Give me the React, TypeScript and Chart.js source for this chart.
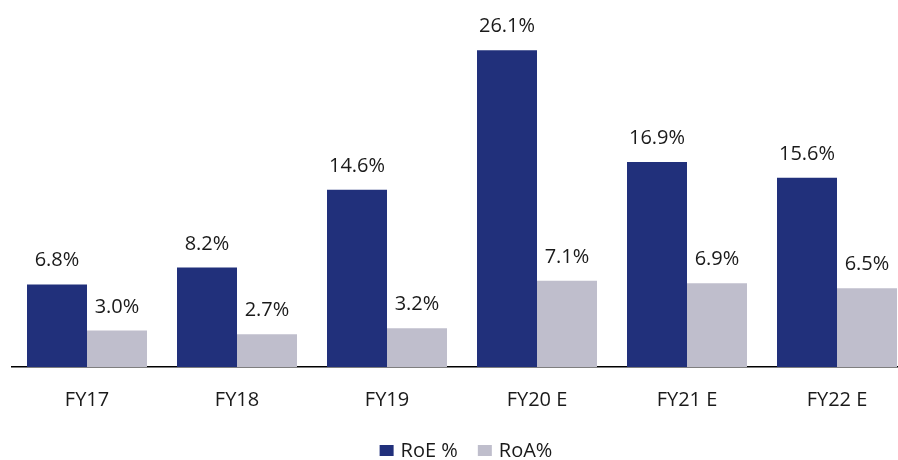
import React, { useEffect, useRef } from "react";
import { Chart, registerables } from "chart.js";

Chart.register(...registerables);

const categories = ["FY17", "FY18", "FY19", "FY20 E", "FY21 E", "FY22 E"];
const roe = [6.8, 8.2, 14.6, 26.1, 16.9, 15.6];
const roa = [3.0, 2.7, 3.2, 7.1, 6.9, 6.5];
const seriesNames = ["RoE %", "RoA%"];

const FONT = "'Open Sans', 'DejaVu Sans', sans-serif";
const TEXT = "#1a1a1a";

// Writes each bar's value just above its top edge.
const valueLabels = {
  id: "valueLabels",
  afterDatasetsDraw(chart: any) {
    const ctx = chart.ctx;
    ctx.save();
    ctx.font = `20px ${FONT}`;
    ctx.fillStyle = TEXT;
    ctx.textAlign = "center";
    ctx.textBaseline = "alphabetic";
    chart.data.datasets.forEach((ds: any, di: number) => {
      const meta = chart.getDatasetMeta(di);
      meta.data.forEach((bar: any, i: number) => {
        const v = ds.data[i] as number;
        ctx.fillText(v.toFixed(1) + "%", bar.x, bar.y - 18);
      });
    });
    ctx.restore();
  },
};

// Single-row legend centred under the chart, built from the datasets.
const bottomLegend = {
  id: "bottomLegend",
  afterDraw(chart: any) {
    const ctx = chart.ctx;
    const boxW = 14;
    const boxH = 11;
    const boxGap = 7;
    const itemGap = 20;
    const cy = 451.5;
    ctx.save();
    ctx.font = `20px ${FONT}`;
    const items = chart.data.datasets.map((ds: any) => ({
      text: ds.label as string,
      color: ds.backgroundColor as string,
      w: ctx.measureText(ds.label).width,
    }));
    const total =
      items.reduce((s: number, it: any) => s + boxW + boxGap + it.w, 0) +
      itemGap * (items.length - 1);
    let x = chart.width / 2 - total / 2;
    ctx.textBaseline = "middle";
    ctx.textAlign = "left";
    items.forEach((it: any) => {
      ctx.fillStyle = it.color;
      ctx.fillRect(x, cy - boxH / 2 - 1, boxW, boxH);
      x += boxW + boxGap;
      ctx.fillStyle = TEXT;
      ctx.fillText(it.text, x, cy);
      x += it.w + itemGap;
    });
    ctx.restore();
  },
};

export default function App() {
  const canvasRef = useRef<HTMLCanvasElement>(null);

  useEffect(() => {
    if (!canvasRef.current) return;
    const chart = new Chart(canvasRef.current, {
      type: "bar",
      data: {
        labels: categories,
        datasets: [
          {
            label: seriesNames[0],
            data: roe,
            backgroundColor: "#21307b",
            barPercentage: 1,
            categoryPercentage: 0.8,
          },
          {
            label: seriesNames[1],
            data: roa,
            backgroundColor: "#bfbecc",
            barPercentage: 1,
            categoryPercentage: 0.8,
          },
        ],
      },
      options: {
        animation: false,
        responsive: false,
        maintainAspectRatio: false,
        layout: { padding: { top: 3, left: 12, right: 20, bottom: 35 } },
        scales: {
          x: {
            grid: { display: false },
            border: { display: true, color: "#000000", width: 1.5 },
            ticks: {
              color: TEXT,
              font: { family: FONT, size: 20 },
              padding: 13,
              maxRotation: 0,
            },
          },
          y: {
            display: false,
            min: 0,
            max: 30,
          },
        },
        plugins: {
          legend: { display: false },
          tooltip: { enabled: false },
        },
      },
      plugins: [valueLabels, bottomLegend],
    });
    return () => chart.destroy();
  }, []);

  return (
    <div style={{ position: "fixed", left: 0, top: 0, width: 932, height: 460 }}>
      <canvas ref={canvasRef} width={932} height={460} style={{ display: "block" }} />
    </div>
  );
}
